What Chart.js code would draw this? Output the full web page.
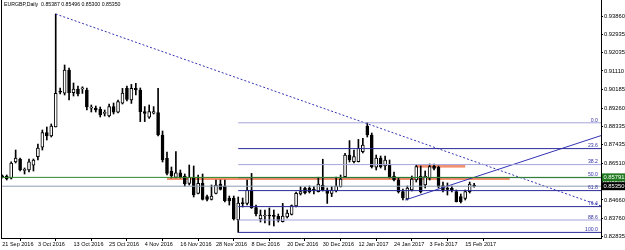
<!DOCTYPE html>
<html>
<head>
<meta charset="utf-8">
<script src="https://cdn.jsdelivr.net/npm/chart.js@4.4.0/dist/chart.umd.min.js"></script>
<style>
html, body { margin: 0; padding: 0; background: #fff; }
</style>
</head>
<body>
<canvas id="grafico" width="625" height="250"></canvas>
<script>
// EURGBP daily, 21 Sep 2016 .. 17 Feb 2017 (bar index 0..106)
const simbolo = 'EURGBP,Daily';

const abertura = [
  0.8585, 0.8586, 0.8575, 0.8656, 0.8671, 0.8614, 0.8616, 0.8640, 0.8683, 0.8730,
  0.8803, 0.8786, 0.8832, 0.9011, 0.9000, 0.9116, 0.9003, 0.9021, 0.9022, 0.9016,
  0.8925, 0.8925, 0.8919, 0.8899, 0.8886, 0.8933, 0.8905, 0.8950, 0.9024, 0.8966,
  0.9024, 0.9016, 0.8908, 0.8880, 0.8900, 0.8903, 0.8791, 0.8674, 0.8611, 0.8579,
  0.8602, 0.8586, 0.8549, 0.8579, 0.8499, 0.8549, 0.8483, 0.8469, 0.8499, 0.8545,
  0.8536, 0.8476, 0.8476, 0.8366, 0.8451, 0.8449, 0.8516, 0.8428, 0.8371, 0.8386,
  0.8388, 0.8385, 0.8384, 0.8358, 0.8381, 0.8394, 0.8436, 0.8496, 0.8524, 0.8524,
  0.8516, 0.8508, 0.8541, 0.8516, 0.8499, 0.8511, 0.8533, 0.8583, 0.8691, 0.8658,
  0.8658, 0.8708, 0.8836, 0.8791, 0.8630, 0.8675, 0.8636, 0.8641, 0.8586, 0.8566,
  0.8508, 0.8471, 0.8516, 0.8566, 0.8586, 0.8541, 0.8575, 0.8636, 0.8629, 0.8538,
  0.8522, 0.8524, 0.8508, 0.8483, 0.8474, 0.8508, 0.85387
];
const maxima = [
  0.8591, 0.8591, 0.8657, 0.8716, 0.8676, 0.8626, 0.8671, 0.8671, 0.8746, 0.8816,
  0.8831, 0.8846, 0.9396, 0.9026, 0.9141, 0.9126, 0.9051, 0.9036, 0.9032, 0.9026,
  0.8941, 0.8936, 0.8931, 0.8916, 0.8946, 0.8951, 0.8966, 0.9024, 0.9036, 0.9044,
  0.9049, 0.9026, 0.8933, 0.8941, 0.8933, 0.9024, 0.8811, 0.8706, 0.8631, 0.8708,
  0.8616, 0.8596, 0.8641, 0.8636, 0.8591, 0.8596, 0.8491, 0.8541, 0.8566, 0.8566,
  0.8566, 0.8486, 0.8486, 0.8481, 0.8476, 0.8566, 0.8599, 0.8441, 0.8416, 0.8416,
  0.8426, 0.8416, 0.8396, 0.8449, 0.8416, 0.8441, 0.8506, 0.8533, 0.8531, 0.8536,
  0.8533, 0.8580, 0.8670, 0.8526, 0.8533, 0.8580, 0.8591, 0.8699, 0.8763, 0.8716,
  0.8769, 0.8774, 0.8853, 0.8801, 0.8691, 0.8686, 0.8686, 0.8666, 0.8606, 0.8576,
  0.8521, 0.8536, 0.8586, 0.8641, 0.8636, 0.8611, 0.8646, 0.8646, 0.8636, 0.8556,
  0.8551, 0.8536, 0.8516, 0.8496, 0.8516, 0.8556, 0.85496
];
const minima = [
  0.8576, 0.8566, 0.8571, 0.8651, 0.8611, 0.8596, 0.8606, 0.8611, 0.8666, 0.8716,
  0.8766, 0.8781, 0.8831, 0.8996, 0.8991, 0.8966, 0.8986, 0.8986, 0.8999, 0.8916,
  0.8906, 0.8906, 0.8881, 0.8886, 0.8881, 0.8896, 0.8901, 0.8946, 0.8961, 0.8949,
  0.8991, 0.8858, 0.8858, 0.8874, 0.8896, 0.8786, 0.8656, 0.8591, 0.8576, 0.8576,
  0.8576, 0.8536, 0.8541, 0.8481, 0.8496, 0.8466, 0.8461, 0.8466, 0.8496, 0.8516,
  0.8456, 0.8441, 0.8366, 0.8304, 0.8431, 0.8441, 0.8424, 0.8386, 0.8356, 0.8351,
  0.8341, 0.8336, 0.8356, 0.8356, 0.8376, 0.8391, 0.8431, 0.8491, 0.8496, 0.8501,
  0.8496, 0.8506, 0.8511, 0.8449, 0.8483, 0.8506, 0.8531, 0.8581, 0.8656, 0.8651,
  0.8656, 0.8701, 0.8781, 0.8626, 0.8616, 0.8626, 0.8616, 0.8576, 0.8561, 0.8501,
  0.8466, 0.8466, 0.8511, 0.8556, 0.8501, 0.8526, 0.8566, 0.8616, 0.8526, 0.8506,
  0.8491, 0.8506, 0.8456, 0.8451, 0.8466, 0.8501, 0.85300
];
const fechamento = [
  0.8582, 0.8571, 0.8650, 0.8676, 0.8616, 0.8617, 0.8657, 0.8665, 0.8726, 0.8803,
  0.8786, 0.8836, 0.8999, 0.9005, 0.9116, 0.9003, 0.9021, 0.8996, 0.9025, 0.8932,
  0.8928, 0.8916, 0.8891, 0.8902, 0.8933, 0.8905, 0.8958, 0.9000, 0.8969, 0.9024,
  0.9016, 0.8908, 0.8899, 0.8908, 0.8908, 0.8791, 0.8666, 0.8599, 0.8586, 0.8602,
  0.8582, 0.8546, 0.8579, 0.8491, 0.8549, 0.8469, 0.8469, 0.8486, 0.8541, 0.8519,
  0.8463, 0.8461, 0.8371, 0.8451, 0.8448, 0.8516, 0.8428, 0.8396, 0.8391, 0.8389,
  0.8386, 0.8384, 0.8364, 0.8386, 0.8401, 0.8438, 0.8499, 0.8508, 0.8502, 0.8508,
  0.8515, 0.8546, 0.8516, 0.8499, 0.8516, 0.8536, 0.8570, 0.8691, 0.8666, 0.8683,
  0.8724, 0.8741, 0.8791, 0.8631, 0.8675, 0.8633, 0.8666, 0.8583, 0.8566, 0.8508,
  0.8476, 0.8526, 0.8571, 0.8633, 0.8508, 0.8586, 0.8633, 0.8624, 0.8533, 0.8516,
  0.8519, 0.8516, 0.8458, 0.8458, 0.8508, 0.8546, 0.85350
];

// eixo do tempo: um rotulo a cada 8 barras
const posRotulos = [0, 8, 16, 24, 32, 40, 48, 56, 64, 72, 80, 88, 96, 104];
const rotulosDatas = ['21 Sep 2016', '3 Oct 2016', '13 Oct 2016', '25 Oct 2016', '4 Nov 2016',
  '16 Nov 2016', '28 Nov 2016', '8 Dec 2016', '20 Dec 2016', '30 Dec 2016',
  '12 Jan 2017', '24 Jan 2017', '3 Feb 2017', '15 Feb 2017'];

// eixo de precos
const rotulosPreco = [0.93860, 0.92935, 0.92035, 0.91110, 0.90185, 0.89260, 0.88335,
  0.87435, 0.86510, 0.85585, 0.84660, 0.83760, 0.82835];

// fibonacci (maxima 16 Jan -> minima 5 Dec)
const fibNiveis = ['0.0', '23.6', '38.2', '50.0', '61.8', '76.4', '88.6', '100.0'];
const fibPrecos = [0.8852, 0.8723, 0.8643, 0.8578, 0.8513, 0.8433, 0.8366, 0.8304];
const fibInicio = 53;

// linhas de tendencia [barra, preco]
const tendenciaBaixa = [[12, 0.9396], [134.5, 0.8436]];
const tendenciaAlta = [[90.5, 0.8466], [134.5, 0.8788]];

// linhas horizontais
const linhaVerde = 0.85791;
const linhaBid = 0.85350;

// retangulos de suporte: barra inicial, barra final, topo, fundo
const zonaInicio = [37, 93];
const zonaFim = [114, 104];
const zonaTopo = [0.8580, 0.8641];
const zonaFundo = [0.8566, 0.8628];

const xMin = -0.29, xMax = 134.5;
const fonte = "'Liberation Sans', Arial, sans-serif";

function linha(pontos, cor, tracejado) {
  return {
    type: 'line',
    data: pontos.map(p => ({x: p[0], y: p[1]})),
    borderColor: cor,
    borderWidth: 1,
    borderDash: tracejado || [],
    pointRadius: 0,
    fill: false,
    order: 0
  };
}

const corFib = ['#a4a4dc', '#2b2b9c', '#a4a4dc', '#24246e', '#2b2b9c', '#2b2b9c', '#a4a4dc', '#2b2b9c'];

const datasets = [
  {
    label: 'pavio',
    data: abertura.map((o, i) => ({x: i, y: [minima[i], maxima[i]]})),
    backgroundColor: '#000',
    barThickness: 1,
    grouped: false,
    order: 2
  },
  {
    label: 'corpo',
    data: abertura.map((o, i) => ({x: i, y: [o, fechamento[i]]})),
    backgroundColor: abertura.map((o, i) => fechamento[i] > o ? '#ffffff' : '#000000'),
    borderColor: '#000',
    borderWidth: 1,
    borderSkipped: false,
    barThickness: 3,
    minBarLength: 1,
    grouped: false,
    order: 1
  },
  linha([[xMin, linhaBid], [xMax, linhaBid]], '#8e9cb2'),
  linha([[xMin, linhaVerde], [xMax, linhaVerde]], '#2f8a2f')
];
fibPrecos.forEach((p, k) => {
  datasets.push(linha([[fibInicio, p], [xMax, p]], corFib[k]));
});
datasets.push(linha(tendenciaBaixa, '#3434b4', [2, 2]));
datasets.push(linha(tendenciaAlta, '#3434b4'));

const desenhos = {
  id: 'desenhos',
  beforeDatasetsDraw(chart) {
    const {ctx, scales: {x, y}} = chart;
    ctx.save();
    ctx.fillStyle = '#f4906c';
    for (let k = 0; k < zonaInicio.length; k++) {
      const x1 = x.getPixelForValue(zonaInicio[k]);
      const x2 = x.getPixelForValue(zonaFim[k]);
      const y1 = y.getPixelForValue(zonaTopo[k]);
      const y2 = y.getPixelForValue(zonaFundo[k]);
      ctx.fillRect(x1, y1, x2 - x1, y2 - y1);
    }
    ctx.restore();
  },
  afterDraw(chart) {
    const {ctx, chartArea: area, scales: {x, y}} = chart;
    ctx.save();
    // moldura esquerda
    ctx.strokeStyle = '#000';
    ctx.lineWidth = 1;
    ctx.beginPath();
    ctx.moveTo(area.left + 0.5, area.top);
    ctx.lineTo(area.left + 0.5, area.bottom);
    ctx.stroke();

    // cabecalho
    const n = abertura.length - 1;
    ctx.fillStyle = '#000';
    ctx.font = '5.2px ' + fonte;
    ctx.textBaseline = 'middle';
    ctx.textAlign = 'left';
    ctx.fillText(simbolo + '  ' + abertura[n].toFixed(5) + ' ' + maxima[n].toFixed(5) + ' ' +
      minima[n].toFixed(5) + ' ' + fechamento[n].toFixed(5), 4, 5);

    // niveis de fibonacci
    ctx.fillStyle = '#3535a8';
    ctx.textAlign = 'right';
    ctx.textBaseline = 'bottom';
    fibPrecos.forEach((p, k) => {
      ctx.fillText(fibNiveis[k], area.right - 3, y.getPixelForValue(p));
    });

    // caixas de preco no eixo
    ctx.font = '5.8px ' + fonte;
    ctx.textAlign = 'left';
    ctx.textBaseline = 'middle';
    [[linhaVerde, '#1f7a1f'], [linhaBid, '#000000']].forEach(c => {
      const py = y.getPixelForValue(c[0]);
      ctx.fillStyle = c[1];
      ctx.fillRect(area.right + 1, py - 4, 24, 8);
      ctx.fillStyle = '#fff';
      ctx.fillText(c[0].toFixed(5), area.right + 2.5, py);
    });
    ctx.restore();
  }
};

new Chart(document.getElementById('grafico'), {
  type: 'bar',
  data: {datasets: datasets},
  options: {
    responsive: false,
    animation: false,
    layout: {padding: {left: 1, top: 0, right: 0, bottom: 0}},
    plugins: {legend: {display: false}, tooltip: {enabled: false}},
    scales: {
      x: {
        type: 'linear',
        min: xMin,
        max: xMax,
        offset: false,
        afterBuildTicks: s => { s.ticks = posRotulos.map(v => ({value: v})); },
        afterFit: s => { s.height = 12; s.paddingLeft = 0; s.paddingRight = 0; },
        grid: {drawOnChartArea: false, drawTicks: true, tickLength: 3, color: '#000'},
        border: {display: true, color: '#000'},
        ticks: {
          autoSkip: false,
          maxRotation: 0,
          minRotation: 0,
          align: 'start',
          padding: 0,
          color: '#000',
          font: {size: 5.5, family: fonte},
          callback: v => rotulosDatas[posRotulos.indexOf(v)]
        }
      },
      y: {
        position: 'right',
        min: 0.8276,
        max: 0.9466,
        afterBuildTicks: s => { s.ticks = rotulosPreco.map(v => ({value: v})); },
        afterFit: s => { s.width = 24; s.paddingTop = 0; s.paddingBottom = 0; },
        grid: {drawOnChartArea: false, drawTicks: true, tickLength: 2, color: '#000'},
        border: {display: true, color: '#000'},
        ticks: {
          padding: 1,
          color: '#000',
          font: {size: 5.8, family: fonte},
          callback: v => v.toFixed(5)
        }
      }
    }
  },
  plugins: [desenhos]
});
</script>
</body>
</html>
